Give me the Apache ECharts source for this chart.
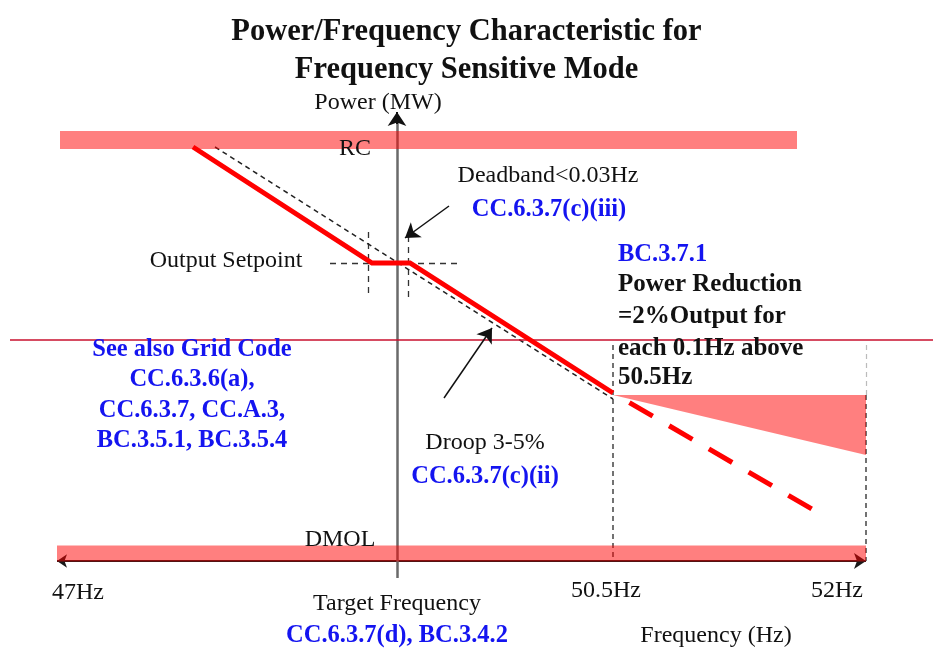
<!DOCTYPE html>
<html>
<head>
<meta charset="utf-8">
<script src="https://cdn.jsdelivr.net/npm/echarts@6/dist/echarts.min.js"></script>
<style>html,body{margin:0;padding:0;background:#fff}#c{width:933px;height:649px}</style>
</head>
<body>
<div id="c"></div>
<script>
// ---- schematic data (diagram units along frequency / power axes) ----
const titleLines = ['Power/Frequency Characteristic for', 'Frequency Sensitive Mode'];
const rcBand = [[60, 140], [797, 140]];
const dmolBand = [[57, 553.5], [866, 553.5]];
const responseSolid = [[193, 147], [372, 263], [410, 263], [613, 393]];
const responseDashed = [[613, 393], [817, 512]];
const droopRef = [[215, 147], [613, 399]];
const reductionArea = [[613, 395], [866, 395], [866, 455]];
const deadbandGuides = [[[368, 232], [368, 295]], [[408, 236], [408, 297]], [[330, 263], [458, 263]]];
const freqGuidesLight = [[[866, 345], [866, 395]]];
const freqGuides = [[[613, 345], [613, 561]], [[866, 395], [866, 561]]];
const pointerArrows = [[[449, 206], [405, 238]], [[444, 398], [492, 328]]];
const freqAxis = [[57, 561], [866, 561]];
const powerAxis = [[397, 578], [397, 118]];
const powerAxisTip = [[397, 124], [397, 112]];
const refLine = [[10, 340], [933, 340]];

const tickLabels = ['47Hz', '50.5Hz', '52Hz'];
const axisTexts = ['Power (MW)', 'Frequency (Hz)', 'Target Frequency', 'RC', 'DMOL', 'Output Setpoint'];
const noteTexts = ['Deadband<0.03Hz', 'Droop 3-5%'];
const codeTexts = ['CC.6.3.7(c)(iii)', 'BC.3.7.1', 'See also Grid Code', 'CC.6.3.6(a),', 'CC.6.3.7, CC.A.3,', 'BC.3.5.1, BC.3.5.4', 'CC.6.3.7(c)(ii)', 'CC.6.3.7(d), BC.3.4.2'];
const reductionTexts = ['Power Reduction', '=2%Output for', 'each 0.1Hz above', '50.5Hz'];

// ---- layout (positions / styles) ----
const SERIF = 'Liberation Serif';
const BLUE = '#1414f0';
const labels = [
  {t: tickLabels[0], p: [78, 593], s: 'n'},
  {t: tickLabels[1], p: [606, 591], s: 'n'},
  {t: tickLabels[2], p: [837, 591], s: 'n'},
  {t: axisTexts[0], p: [378, 103], s: 'n'},
  {t: axisTexts[1], p: [716, 636], s: 'n'},
  {t: axisTexts[2], p: [397, 604], s: 'n'},
  {t: axisTexts[3], p: [355, 149], s: 'n'},
  {t: axisTexts[4], p: [340, 540], s: 'n'},
  {t: axisTexts[5], p: [226, 261], s: 'n'},
  {t: noteTexts[0], p: [548, 176], s: 'n'},
  {t: noteTexts[1], p: [485, 443], s: 'n'},
  {t: codeTexts[0], p: [549, 210], s: 'b'},
  {t: codeTexts[1], p: [618, 255], s: 'b', a: 'left'},
  {t: codeTexts[2], p: [192, 350], s: 'b'},
  {t: codeTexts[3], p: [192, 380], s: 'b'},
  {t: codeTexts[4], p: [192, 411], s: 'b'},
  {t: codeTexts[5], p: [192, 441], s: 'b'},
  {t: codeTexts[6], p: [485, 477], s: 'b'},
  {t: codeTexts[7], p: [397, 636], s: 'b'},
  {t: reductionTexts[0], p: [618, 285], s: 'k', a: 'left'},
  {t: reductionTexts[1], p: [618, 317], s: 'k', a: 'left'},
  {t: reductionTexts[2], p: [618, 349], s: 'k', a: 'left'},
  {t: reductionTexts[3], p: [618, 378], s: 'k', a: 'left'}
];
const textStyles = {
  n: {fill: '#111', fontWeight: 'normal', fontSize: 24},
  b: {fill: BLUE, fontWeight: 'bold', fontSize: 24.5},
  k: {fill: '#111', fontWeight: 'bold', fontSize: 25}
};

const chart = echarts.init(document.getElementById('c'), null, {renderer: 'canvas'});

function segs(list) { return list.map(c => ({coords: c})); }

chart.setOption({
  animation: false,
  backgroundColor: '#fff',
  title: {
    text: titleLines.join('\n'),
    left: 'center', top: 8,
    textStyle: {fontFamily: SERIF, fontWeight: 'bold', fontSize: 30.5, lineHeight: 38, color: '#111'}
  },
  grid: {left: 0, right: 0, top: 0, bottom: 0},
  xAxis: {type: 'value', min: 0, max: 933, show: false},
  yAxis: {type: 'value', min: 0, max: 649, inverse: true, show: false},
  series: [
    {type: 'lines', coordinateSystem: 'cartesian2d', z: 2, silent: true,
      symbol: ['arrow', 'arrow'], symbolSize: [10, 12],
      lineStyle: {color: '#1a1a1a', width: 2, opacity: 1},
      data: segs([freqAxis])},
    {type: 'lines', coordinateSystem: 'cartesian2d', z: 2, silent: true,
      lineStyle: {color: '#6a6a6a', width: 2.5, opacity: 1},
      data: segs([powerAxis])},
    {type: 'lines', coordinateSystem: 'cartesian2d', z: 2, silent: true,
      symbol: ['none', 'arrow'], symbolSize: [10, 14],
      lineStyle: {color: '#111', width: 2, opacity: 1},
      data: segs([powerAxisTip])},
    {type: 'lines', coordinateSystem: 'cartesian2d', z: 2, silent: true,
      lineStyle: {color: '#333', width: 1.3, type: [6, 5], opacity: 1},
      data: segs(deadbandGuides)},
    {type: 'lines', coordinateSystem: 'cartesian2d', z: 2, silent: true,
      lineStyle: {color: '#444', width: 1.5, type: [5, 4], opacity: 1},
      data: segs(freqGuides)},
    {type: 'lines', coordinateSystem: 'cartesian2d', z: 2, silent: true,
      lineStyle: {color: '#bbb', width: 1.2, type: [5, 4], opacity: 1},
      data: segs(freqGuidesLight)},
    {type: 'lines', coordinateSystem: 'cartesian2d', z: 2, silent: true,
      lineStyle: {color: '#222', width: 1.5, type: [5, 4], opacity: 1},
      data: segs([droopRef])},
    {type: 'custom', coordinateSystem: 'cartesian2d', z: 3, silent: true,
      data: [reductionArea[0]],
      renderItem: (params, api) => ({
        type: 'polygon',
        shape: {points: reductionArea.map(p => api.coord(p))},
        style: {fill: 'rgba(255,0,0,0.5)'}
      })},
    {type: 'line', z: 4, silent: true, showSymbol: false, data: rcBand,
      lineStyle: {color: 'rgba(255,0,0,0.5)', width: 18, cap: 'butt'}},
    {type: 'line', z: 4, silent: true, showSymbol: false, data: dmolBand,
      lineStyle: {color: 'rgba(255,0,0,0.5)', width: 16, cap: 'butt'}},
    {type: 'line', z: 4, silent: true, showSymbol: false, data: refLine,
      lineStyle: {color: '#c8102e', width: 1.5}},
    {type: 'line', z: 5, silent: true, showSymbol: false, data: responseSolid,
      lineStyle: {color: '#ff0000', width: 5, join: 'miter', cap: 'butt'}},
    {type: 'line', z: 5, silent: true, showSymbol: false, data: responseDashed,
      lineStyle: {color: '#ff0000', width: 5, type: [27, 19], dashOffset: 27, cap: 'butt'}},
    {type: 'lines', coordinateSystem: 'cartesian2d', z: 5, silent: true,
      symbol: ['none', 'arrow'], symbolSize: [10, 14],
      lineStyle: {color: '#111', width: 1.5, opacity: 1},
      data: segs(pointerArrows)},
    {type: 'custom', coordinateSystem: 'cartesian2d', z: 10, silent: true, clip: false,
      data: labels.map(l => l.p),
      renderItem: (params, api) => {
        const l = labels[params.dataIndex];
        const p = api.coord([api.value(0), api.value(1)]);
        const st = textStyles[l.s];
        return {type: 'text', x: p[0], y: p[1],
          style: {text: l.t, fill: st.fill, fontFamily: SERIF, fontWeight: st.fontWeight,
            fontSize: st.fontSize, align: l.a || 'center', verticalAlign: 'middle'}};
      }}
  ]
});
</script>
</body>
</html>
